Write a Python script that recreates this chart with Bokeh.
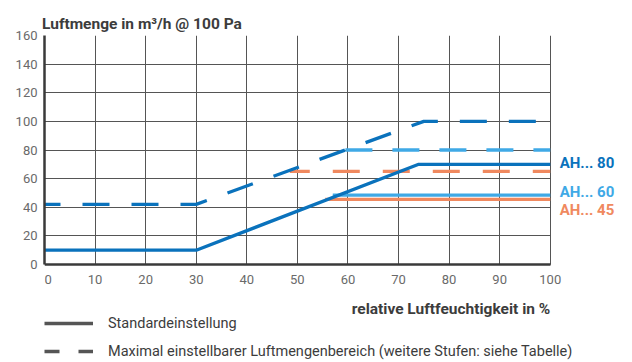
from bokeh.plotting import figure
from bokeh.models import (FixedTicker, Range1d, Legend, LegendItem, ColumnDataSource, Grid)
from bokeh.core.properties import value
from bokeh.embed import file_html
from bokeh.resources import INLINE

# ---- data ----
x_ticks = [0, 10, 20, 30, 40, 50, 60, 70, 80, 90, 100]
y_ticks = [0, 20, 40, 60, 80, 100, 120, 140, 160]

# Standardeinstellung (solid)
hum_std_80 = [0, 30, 74, 100]
flow_std_80 = [10, 10, 70, 70]
hum_std_60 = [57, 100]
flow_std_60 = [48.5, 48.5]
hum_std_45 = [55.5, 100]
flow_std_45 = [45.5, 45.5]

# Maximal einstellbarer Luftmengenbereich (dashed)
hum_max_80 = [0, 30, 75, 100]
flow_max_80 = [42, 42, 100, 100]
hum_max_60 = [59.5, 100]
flow_max_60 = [80, 80]
hum_max_45 = [48.5, 100]
flow_max_45 = [65, 65]

series_labels = ["AH... 80", "AH... 60", "AH... 45"]
series_label_y = [70.6, 51.0, 38.4]

title_text = "Luftmenge in m³/h @ 100 Pa"
xlabel_text = "relative Luftfeuchtigkeit in %"
legend_texts = ["Standardeinstellung",
                "Maximal einstellbarer Luftmengenbereich (weitere Stufen: siehe Tabelle)"]

C80 = "#0a72bc"
C60 = "#3fa9e6"
C45 = "#f0895f"
GRID = "#555555"
TXT = "#3c3c3c"
TICK = "#6a6a6a"
FONT = "Roboto"

X_MIN, X_MAX = 0.0, 113.5      # room right of 100 for the series labels
FRAME_W = 574
PX_PER_X = FRAME_W / (X_MAX - X_MIN)
PX_PER_Y = 229 / 160.0
FRAME_H = 326
Y_MIN = 160 - FRAME_H / PX_PER_Y  # room below the axis for axis label and legend

p = figure(frame_width=FRAME_W, frame_height=FRAME_H,
           min_border_left=44, min_border_right=8, min_border_top=35, min_border_bottom=0,
           x_range=Range1d(X_MIN, X_MAX), y_range=Range1d(Y_MIN, 160),
           output_backend="svg", toolbar_location=None, tools="")
p.outline_line_color = None
p.background_fill_color = "white"
p.border_fill_color = "white"

# title (above)
p.title.text = title_text
p.title.align = "left"
p.title.offset = -2.5
p.title.standoff = 6
p.title.text_font = FONT
p.title.text_font_size = "15.5px"
p.title.text_font_style = "bold"
p.title.text_color = TXT

for ax in (p.xaxis[0], p.yaxis[0]):
    ax.major_tick_out = 0
    ax.major_tick_in = 0
    ax.minor_tick_out = 0
    ax.minor_tick_in = 0
    ax.major_tick_line_color = None
    ax.minor_tick_line_color = None
    ax.axis_line_color = "#3a3a3a"
    ax.axis_line_width = 2.5
    ax.major_label_text_font = FONT
    ax.major_label_text_font_size = "13px"
    ax.major_label_text_color = TICK
p.xaxis.fixed_location = 0
p.xaxis.ticker = FixedTicker(ticks=x_ticks)
p.xaxis.major_label_overrides = {0: "\u20070"}   # keep the "0" inside the frame
p.yaxis.ticker = FixedTicker(ticks=y_ticks)
p.xaxis.bounds = (0, 100)
p.yaxis.bounds = (0, 160)
p.xaxis.major_label_standoff = 7
p.yaxis.major_label_standoff = 7

# grid limited to the chart area
p.xgrid.ticker = FixedTicker(ticks=x_ticks)
p.ygrid.ticker = FixedTicker(ticks=y_ticks)
for g in (p.xgrid[0], p.ygrid[0]):
    g.grid_line_color = GRID
    g.grid_line_width = 1
if "cross_bounds" in Grid.properties():
    p.ygrid.cross_bounds = (0, 100)
    p.xgrid.cross_bounds = (0, 160)
else:
    p.ygrid.visible = False
    p.xgrid.visible = False
    p.segment(x0=[0] * len(y_ticks), y0=y_ticks, x1=[100] * len(y_ticks), y1=y_ticks,
              line_color=GRID, line_width=1, level="underlay")
    p.segment(x0=x_ticks, y0=[0] * len(x_ticks), x1=x_ticks, y1=[160] * len(x_ticks),
              line_color=GRID, line_width=1, level="underlay")

LW = 3.3
p.line(hum_max_45, flow_max_45, line_color=C45, line_width=LW, line_dash="27 23", line_dash_offset=7)
p.line(hum_max_60, flow_max_60, line_color=C60, line_width=LW, line_dash="27 20")
p.line(hum_max_80, flow_max_80, line_color=C80, line_width=LW, line_dash="27 22", line_dash_offset=11)
p.line(hum_std_45, flow_std_45, line_color=C45, line_width=LW)
p.line(hum_std_60, flow_std_60, line_color=C60, line_width=LW)
p.line(hum_std_80, flow_std_80, line_color=C80, line_width=LW)

# series labels right of the chart
label_x = 100 + 9.4 / PX_PER_X
src = ColumnDataSource(dict(x=[label_x] * 3, y=series_label_y, text=series_labels,
                            color=[C80, C60, C45]))
p.text(x="x", y="y", text="text", source=src, text_color="color", text_font=value(FONT),
       text_font_size="15px", text_font_style="bold", text_baseline="middle",
       text_align="left")

# x-axis label, right aligned at x = 100, below the tick labels
p.text(x=[100], y=[-44 / PX_PER_Y], text=[xlabel_text], text_color=TXT, text_font=value(FONT),
       text_font_size="15.5px", text_font_style="bold", text_align="right",
       text_baseline="alphabetic")

# legend (sample renderers hold no visible data)
nan = float("nan")
r_solid = p.line(x=[nan], y=[nan], line_color="#555555", line_width=3.3)
r_dash = p.line(x=[nan], y=[nan], line_color="#555555", line_width=3.3, line_dash="15 19")
legend = Legend(items=[LegendItem(label=legend_texts[0], renderers=[r_solid]),
                       LegendItem(label=legend_texts[1], renderers=[r_dash])],
                location=(0, 0), orientation="vertical",
                glyph_width=49, glyph_height=20, label_height=20, label_standoff=15,
                spacing=8, padding=0, margin=0,
                border_line_color=None, background_fill_alpha=0,
                label_text_font=FONT, label_text_font_size="14.5px", label_text_color=TXT)
p.add_layout(legend, "center")

open("out.html", "w").write(file_html(p, INLINE))
